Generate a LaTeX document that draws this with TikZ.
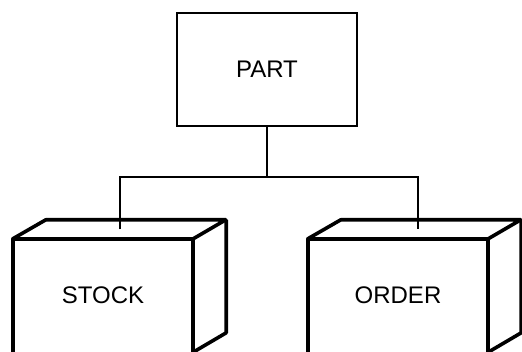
\documentclass[tikz,border=0pt]{standalone}
\usepackage{fontspec}
\usepackage{tikz}
\usetikzlibrary{positioning, calc}
\newfontfamily\recfont{Liberation Sans}

\begin{document}
\begin{tikzpicture}[
    x=1pt, y=-1pt,
    record/.style={rectangle, draw=black, line width=2.7pt, minimum width=180pt, minimum height=113pt, inner sep=0pt, font=\recfont\fontsize{24}{24}\selectfont},
    segment/.style={rectangle, draw=none, minimum width=180pt, minimum height=113pt, inner sep=0pt, font=\recfont\fontsize{24}{24}\selectfont},
    solid edge/.style={line width=3.6pt, line join=round},
    link/.style={line width=1.8pt}
]
    \useasboundingbox (0,0) rectangle (522,352);
    \clip (0,0) rectangle (522,352);

    \node[record] (part) at (267,69.5) {PART};
    \node[segment] (stock) at (103,295.5) {STOCK};
    \node[segment] (order) at (398,295.5) {ORDER};

    % box outlines, bottom runs off the page
    \foreach \seg in {stock,order}{
        \draw[solid edge] (\seg.south west) -- (\seg.north west) -- (\seg.north east) -- (\seg.south east);
        \draw[solid edge] (\seg.north west) -- ++(33,-19) -- ++(180,0) -- (\seg.north east);
        \draw[solid edge] ($(\seg.north east)+(33,-19)$) -- ++(0,113) -- (\seg.south east);
        \coordinate (\seg-top) at ($(\seg.north)+(17,-9.5)$);
    }

    \draw[link] (part.south) -- ++(0,50) coordinate (bus);
    \draw[link] (stock-top) |- (bus) -| ($(order-top)+(3,0)$);
\end{tikzpicture}
\end{document}
